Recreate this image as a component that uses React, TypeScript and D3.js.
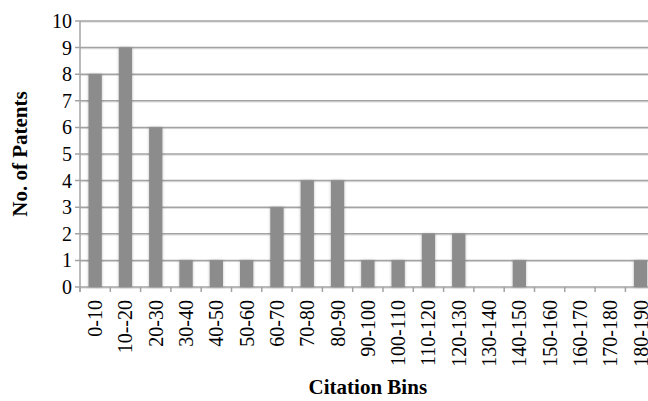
import React from "react";
import * as d3 from "d3";

// Citation bins and patent counts per bin
const bins: string[] = [
  "0-10", "10--20", "20-30", "30-40", "40-50", "50-60", "60-70", "70-80",
  "80-90", "90-100", "100-110", "110-120", "120-130", "130-140", "140-150",
  "150-160", "160-170", "170-180", "180-190",
];
const patents: number[] = [8, 9, 6, 1, 1, 1, 3, 4, 4, 1, 1, 2, 2, 0, 1, 0, 0, 0, 1];
const yTicks: number[] = [0, 1, 2, 3, 4, 5, 6, 7, 8, 9, 10];

const W = 648;
const H = 401;
const left = 80;
const top = 21;
const bottom = 287;
const step = 30.3;
const txt = { fontFamily: '"Liberation Serif"' } as React.CSSProperties;

export default function App() {
  const x = d3
    .scaleBand<string>()
    .domain(bins)
    .range([left, left + step * bins.length])
    .paddingInner(0.56)
    .paddingOuter(0.28);
  const y = d3.scaleLinear().domain([0, 10]).range([bottom, top]);
  const grid = "#a3a3a3";

  return (
    <svg
      width={W}
      height={H}
      style={{ position: "absolute", left: 0, top: 0, background: "#fff" }}
    >
      <defs>
        <filter id="soft" x="-40%" y="-5%" width="180%" height="110%">
          <feGaussianBlur in="SourceAlpha" stdDeviation="1.6" />
          <feComponentTransfer>
            <feFuncA type="linear" slope="0.25" />
          </feComponentTransfer>
          <feMerge>
            <feMergeNode />
            <feMergeNode in="SourceGraphic" />
          </feMerge>
        </filter>
      </defs>

      {/* horizontal gridlines */}
      {yTicks.map((t) => (
        <g key={"g" + t}>
          <line x1={left} x2={W} y1={y(t) + 1.2} y2={y(t) + 1.2} stroke="#dcdcdc" strokeWidth={1} />
          <line x1={left - 5} x2={W} y1={y(t)} y2={y(t)} stroke={grid} strokeWidth={1.5} />
        </g>
      ))}

      {/* y axis line */}
      <line x1={left} x2={left} y1={top} y2={bottom + 5} stroke={grid} strokeWidth={1.5} />

      {/* x axis tick marks at bin boundaries */}
      {d3.range(bins.length + 1).map((i) => (
        <line
          key={"xt" + i}
          x1={left + i * step}
          x2={left + i * step}
          y1={bottom}
          y2={bottom + 5}
          stroke={grid}
          strokeWidth={1.5}
        />
      ))}

      {/* bars */}
      <g filter="url(#soft)">
        {bins.map((b, i) =>
          patents[i] > 0 ? (
            <rect
              key={"b" + b}
              x={x(b)}
              y={y(patents[i])}
              width={x.bandwidth()}
              height={y(0) - y(patents[i])}
              fill="#8c8c8c"
            />
          ) : null
        )}
      </g>

      {/* y tick labels */}
      {yTicks.map((t) => (
        <text
          key={"yl" + t}
          x={left - 8}
          y={y(t)}
          dy="0.35em"
          textAnchor="end"
          style={txt}
          fontSize={20}
          fill="#000"
        >
          {t}
        </text>
      ))}

      {/* x tick labels, rotated */}
      {bins.map((b) => {
        const cx = (x(b) as number) + x.bandwidth() / 2;
        return (
          <text
            key={"xl" + b}
            transform={`translate(${cx},${bottom + 13}) rotate(-90)`}
            dy="0.35em"
            textAnchor="end"
            style={txt}
            fontSize={20}
            fill="#000"
          >
            {b}
          </text>
        );
      })}

      {/* axis titles */}
      <text
        transform={`translate(27,${(top + bottom) / 2}) rotate(-90)`}
        textAnchor="middle"
        style={txt}
        fontWeight="bold"
        fontSize={21}
        fill="#000"
      >
        No. of Patents
      </text>
      <text
        x={left + (step * bins.length) / 2}
        y={394}
        textAnchor="middle"
        style={txt}
        fontWeight="bold"
        fontSize={21}
        fill="#000"
      >
        Citation Bins
      </text>
    </svg>
  );
}
